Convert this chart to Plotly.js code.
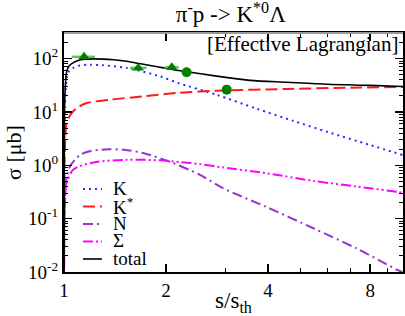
<!DOCTYPE html>
<html><head><meta charset="utf-8">
<script src="https://cdn.plot.ly/plotly-3.0.1.min.js"></script>
<style>html,body{margin:0;padding:0;background:#fff}#chart{width:405px;height:316px}</style>
</head><body><div id="chart"></div>
<script>
// total (black solid)
const sTotal = [1.0002, 1.002, 1.006, 1.018, 1.035, 1.063, 1.1, 1.15, 1.218, 1.3, 1.4, 1.53, 1.7, 1.92, 2.25, 2.82, 3.54, 4.54, 6, 8, 10];
const vTotal = [0.005, 3, 20, 57, 73, 83, 92, 97, 99, 98, 95, 89, 79, 69, 58, 47, 39, 36, 33, 31.5, 30];
// K exchange (blue dotted)
const sK = [1.0002, 1.002, 1.006, 1.018, 1.035, 1.065, 1.1, 1.193, 1.3, 1.53, 1.92, 2.17, 2.82, 3.7, 4.75, 6, 8, 10];
const vK = [0.005, 2, 12, 43, 58, 67, 73, 77, 75, 67, 46.5, 35, 21, 11.5, 6.8, 4.2, 2.4, 1.55];
// K* exchange (red dashed)
const sKs = [1.0002, 1.002, 1.007, 1.018, 1.04, 1.065, 1.1, 1.167, 1.367, 1.71, 2.15, 2.82, 4.58, 7, 10];
const vKs = [0.005, 0.5, 2.5, 6.2, 8.5, 10.3, 12.3, 14.7, 17, 19.6, 22.7, 25, 27, 28.5, 29.5];
// N (purple dash-dot)
const sN = [1.0002, 1.005, 1.018, 1.041, 1.115, 1.2, 1.35, 1.5, 1.71, 2.1, 2.52, 2.95, 3.96, 5.44, 7.29, 9.69, 10];
const vN = [0.005, 0.15, 0.58, 0.95, 1.57, 1.85, 2.0, 1.95, 1.7, 1.1, 0.66, 0.37, 0.165, 0.066, 0.0277, 0.0107, 0.0098];
// Sigma (magenta dash-dot-dot)
const sS = [1.0002, 1.005, 1.018, 1.065, 1.22, 1.53, 1.92, 2.2, 2.52, 2.95, 3.96, 5.44, 7.29, 9.9, 10];
const vS = [0.005, 0.15, 0.45, 0.83, 1.13, 1.27, 1.24, 1.15, 1.05, 0.91, 0.71, 0.51, 0.40, 0.31, 0.305];
// data: triangles and circles
const sTri = [1.146, 1.656, 2.08];
const vTri = [108, 67, 68.7];
const eTriMinus = [0.092, 0.09, 0.1];
const eTriPlus = [0.088, 0.097, 0.1];
const sCirc = [2.30, 3.02];
const vCirc = [55.3, 26.2];
// labels
const legendNames = ['K', 'K<sup>*</sup>', 'N', 'Σ', 'total'];
const xTickVals = [1, 2, 4, 8];
const xTickText = ['1', '2', '4', '8'];
const yTickVals = [0.01, 0.1, 1, 10, 100];
const yTickText = ['10<sup>-2</sup>', '10<sup>-1</sup>', '10<sup>0</sup>', '10<sup>1</sup>', '10<sup>2</sup>'];

const serif = 'Liberation Serif';
const styles = [
  {color: '#2b2bff', dash: '2px,4px', width: 2},
  {color: '#ff1a1a', dash: '12px,5px', width: 2},
  {color: '#9933cc', dash: '10px,4px,2px,4px', width: 2},
  {color: '#ff00ff', dash: '10px,3px,2px,3px,2px,3px', width: 2},
  {color: '#000000', dash: 'solid', width: 1.6}
];
const series = [[sK, vK], [sKs, vKs], [sN, vN], [sS, vS], [sTotal, vTotal]];
const traces = series.map((d, i) => ({
  x: d[0], y: d[1], type: 'scatter', mode: 'lines', name: legendNames[i], showlegend: false,
  line: {color: styles[i].color, dash: styles[i].dash, width: styles[i].width, shape: 'spline', smoothing: 0.8}
}));
traces.push({
  x: sTri, y: vTri, type: 'scatter', mode: 'markers', showlegend: false,
  marker: {symbol: 'triangle-up', size: 10, color: '#008000'},
  error_x: {type: 'data', symmetric: false, array: eTriPlus, arrayminus: eTriMinus, color: '#66c266', thickness: 2.5, width: 0}
});
traces.push({
  x: sCirc, y: vCirc, type: 'scatter', mode: 'markers', showlegend: false,
  marker: {symbol: 'circle', size: 10, color: '#008000'}
});

// manual legend (samples + text)
const L = 64, R = 403, T = 33, B = 272;
const px = v => (v - L) / (R - L);
const py = v => (B - v) / (B - T);
const legY = [188, 205.5, 223, 240.5, 258];
const shapes = [];
const annotations = [];
legY.forEach((yy, i) => {
  shapes.push({type: 'line', xref: 'paper', yref: 'paper', x0: px(83), x1: px(102), y0: py(yy + 1), y1: py(yy + 1),
    line: {color: styles[i].color, dash: styles[i].dash, width: styles[i].width}});
  annotations.push({xref: 'paper', yref: 'paper', x: px(111), y: py(yy), xanchor: 'left', yanchor: 'middle',
    text: legendNames[i], showarrow: false, font: {family: serif, size: 19, color: '#000'}});
});
annotations.push({xref: 'paper', yref: 'paper', x: px(400), y: py(44), xanchor: 'right', yanchor: 'middle',
  text: '[Effective Lagrangian]', showarrow: false, font: {family: serif, size: 21, color: '#000'}});
shapes.push({type: 'line', xref: 'paper', yref: 'paper', x0: 0, x1: 1, y0: 1, y1: 1, layer: 'above',
  line: {color: '#999999', width: 2}});

const yMinor = [];
[0.01, 0.1, 1, 10, 100].forEach(d => { for (let k = 2; k <= 9; k++) if (d * k <= 300) yMinor.push(d * k); });

const layout = {
  width: 405, height: 316,
  margin: {l: 64, r: 2, t: 33, b: 44},
  paper_bgcolor: '#fff', plot_bgcolor: '#fff',
  font: {family: serif, color: '#000'},
  title: {text: 'π<sup>-</sup>p -> K<sup>*0</sup>Λ', x: 0.57, xanchor: 'center', y: 0.955, yanchor: 'middle', yref: 'container',
    font: {family: serif, size: 23, color: '#000'}},
  xaxis: {type: 'log', range: [0, 1], tickmode: 'array', tickvals: xTickVals, ticktext: xTickText,
    ticks: 'inside', ticklen: 8, tickwidth: 1.5, tickcolor: '#000', showline: true, linecolor: '#000', linewidth: 2,
    mirror: 'ticks', showgrid: false, zeroline: false, tickfont: {family: serif, size: 19},
    minor: {tickmode: 'array', tickvals: [3, 5, 6, 7, 9], ticks: 'inside', ticklen: 4, tickcolor: '#000', tickwidth: 1, showgrid: false},
    title: {text: 's/s<sub>th</sub>', font: {family: serif, size: 23}, standoff: 0}},
  yaxis: {type: 'log', range: [-2, 2.48], tickmode: 'array', tickvals: yTickVals, ticktext: yTickText,
    ticks: 'inside', ticklen: 8, tickwidth: 1.5, tickcolor: '#000', showline: true, linecolor: '#000', linewidth: 2,
    mirror: 'ticks', showgrid: false, zeroline: false, tickfont: {family: serif, size: 19},
    minor: {tickmode: 'array', tickvals: yMinor, ticks: 'inside', ticklen: 4, tickcolor: '#000', tickwidth: 1, showgrid: false},
    title: {text: 'σ [μb]', font: {family: serif, size: 22}, standoff: 0}},
  shapes: shapes, annotations: annotations, showlegend: false
};
Plotly.newPlot('chart', traces, layout, {staticPlot: true, displayModeBar: false});
</script></body></html>
